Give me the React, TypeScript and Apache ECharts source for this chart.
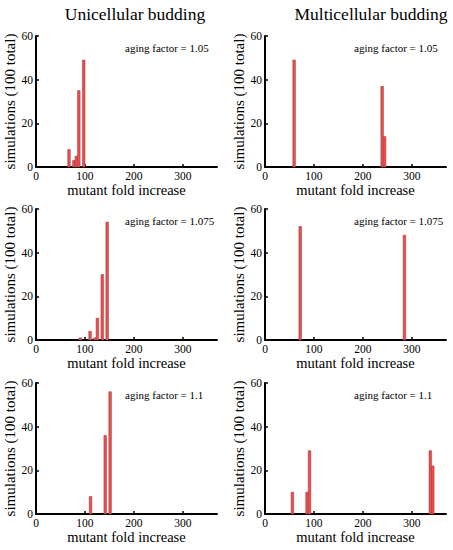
import React, { useEffect, useRef } from "react";
import * as echarts from "echarts";

// ---- data (bin centres along "mutant fold increase", counts out of 100) ----
const uni105Bins = [67.5, 77.5, 82.5, 87.5, 97.5];
const uni105Counts = [8, 3, 5, 35, 49];
const multi105Bins = [59.5, 239.5, 244.5];
const multi105Counts = [49, 37, 14];
const uni1075Bins = [90.5, 110.5, 120.5, 125.5, 135.5, 145.5];
const uni1075Counts = [1, 4, 1, 10, 30, 54];
const multi1075Bins = [72, 285];
const multi1075Counts = [52, 48];
const uni11Bins = [111.5, 141.5, 151.5];
const uni11Counts = [8, 36, 56];
const multi11Bins = [56, 86, 91, 338, 343];
const multi11Counts = [10, 10, 29, 29, 22];

const columnTitles = ["Unicellular budding", "Multicellular budding"];
const agingFactors = ["1.05", "1.075", "1.1"];
const xTicks = [0, 100, 200, 300];
const yTicks = [0, 20, 40, 60];
const xName = "mutant fold increase";
const yName = "simulations (100 total)";

const panels = [
  { bins: uni105Bins, counts: uni105Counts },
  { bins: multi105Bins, counts: multi105Counts },
  { bins: uni1075Bins, counts: uni1075Counts },
  { bins: multi1075Bins, counts: multi1075Counts },
  { bins: uni11Bins, counts: uni11Counts },
  { bins: multi11Bins, counts: multi11Counts },
];

const BIN_WIDTH = 5.4;
const X_MAX = 370;
const Y_MAX = 60;

const SERIF = "'Liberation Serif', 'Times New Roman', serif";

export default function App() {
  const ref = useRef<HTMLDivElement>(null);

  useEffect(() => {
    if (!ref.current) return;
    const chart = echarts.init(ref.current, undefined, { renderer: "svg" });

    const colLeft = [36, 265];
    const rowTop = [36, 209, 383];
    const gw = 181;
    const gh = 131;

    const grids: any[] = [];
    const xAxes: any[] = [];
    const yAxes: any[] = [];
    const series: any[] = [];
    const graphics: any[] = [];

    panels.forEach((p, i) => {
      const col = i % 2;
      const row = Math.floor(i / 2);
      const left = colLeft[col];
      const top = rowTop[row];
      grids.push({ left, top, width: gw, height: gh, containLabel: false });
      xAxes.push({
        gridIndex: i,
        type: "value",
        min: 0,
        max: X_MAX,
        interval: 100,
        name: xName,
        nameLocation: "middle",
        nameGap: 15,
        nameTextStyle: { fontFamily: SERIF, fontSize: 14.5, color: "#000" },
        axisLine: { show: true, onZero: false, lineStyle: { color: "#000", width: 2 } },
        axisTick: { show: true, inside: true, length: 3, lineStyle: { color: "#000", width: 1.5 } },
        axisLabel: {
          fontFamily: SERIF,
          fontSize: 11.5,
          color: "#000",
          margin: 3,
          showMaxLabel: false,
          formatter: (v: number) => (xTicks.includes(v) ? String(v) : ""),
        },
        splitLine: { show: false },
      });
      yAxes.push({
        gridIndex: i,
        type: "value",
        min: 0,
        max: Y_MAX,
        interval: 20,
        name: yName,
        nameLocation: "middle",
        nameGap: 17,
        nameRotate: 90,
        nameTextStyle: { fontFamily: SERIF, fontSize: 15, color: "#000" },
        axisLine: { show: true, onZero: false, lineStyle: { color: "#000", width: 2 } },
        axisTick: { show: true, inside: true, length: 3, lineStyle: { color: "#000", width: 1.5 } },
        axisLabel: {
          fontFamily: SERIF,
          fontSize: 11.5,
          color: "#000",
          margin: 3,
          formatter: (v: number) => (yTicks.includes(v) ? String(v) : ""),
        },
        splitLine: { show: false },
      });
      series.push({
        type: "custom",
        xAxisIndex: i,
        yAxisIndex: i,
        data: p.bins.map((b, k) => [b, p.counts[k]]),
        encode: { x: 0, y: 1 },
        renderItem: (params: any, api: any) => {
          const x = api.value(0);
          const y = api.value(1);
          const p0 = api.coord([x - BIN_WIDTH / 2, y]);
          const p1 = api.coord([x + BIN_WIDTH / 2, 0]);
          return {
            type: "rect",
            shape: { x: p0[0], y: p0[1], width: p1[0] - p0[0], height: p1[1] - p0[1] },
            style: { fill: "#f24a4c", stroke: "#8e4040", lineWidth: 0.5 },
          };
        },
      });
      // aging factor annotation
      graphics.push({
        type: "text",
        x: left + (182 / X_MAX) * gw,
        y: top + ((Y_MAX - 54.5) / Y_MAX) * gh,
        style: {
          text: "aging factor = " + agingFactors[row],
          font: `11px ${SERIF}`,
          fill: "#000",
          textAlign: "left",
          textVerticalAlign: "middle",
        },
      });
    });

    graphics.push({
      type: "text",
      x: 135,
      y: 14,
      style: {
        text: columnTitles[0],
        font: `17.5px ${SERIF}`,
        fill: "#000",
        textAlign: "center",
        textVerticalAlign: "middle",
      },
    });
    graphics.push({
      type: "text",
      x: 371,
      y: 14,
      style: {
        text: columnTitles[1],
        font: `17.5px ${SERIF}`,
        fill: "#000",
        textAlign: "center",
        textVerticalAlign: "middle",
      },
    });

    chart.setOption({
      animation: false,
      backgroundColor: "#fff",
      grid: grids,
      xAxis: xAxes,
      yAxis: yAxes,
      series,
      graphic: graphics,
    });

    return () => chart.dispose();
  }, []);

  return (
    <div
      ref={ref}
      style={{ position: "absolute", left: 0, top: 0, width: 453, height: 550 }}
    />
  );
}
